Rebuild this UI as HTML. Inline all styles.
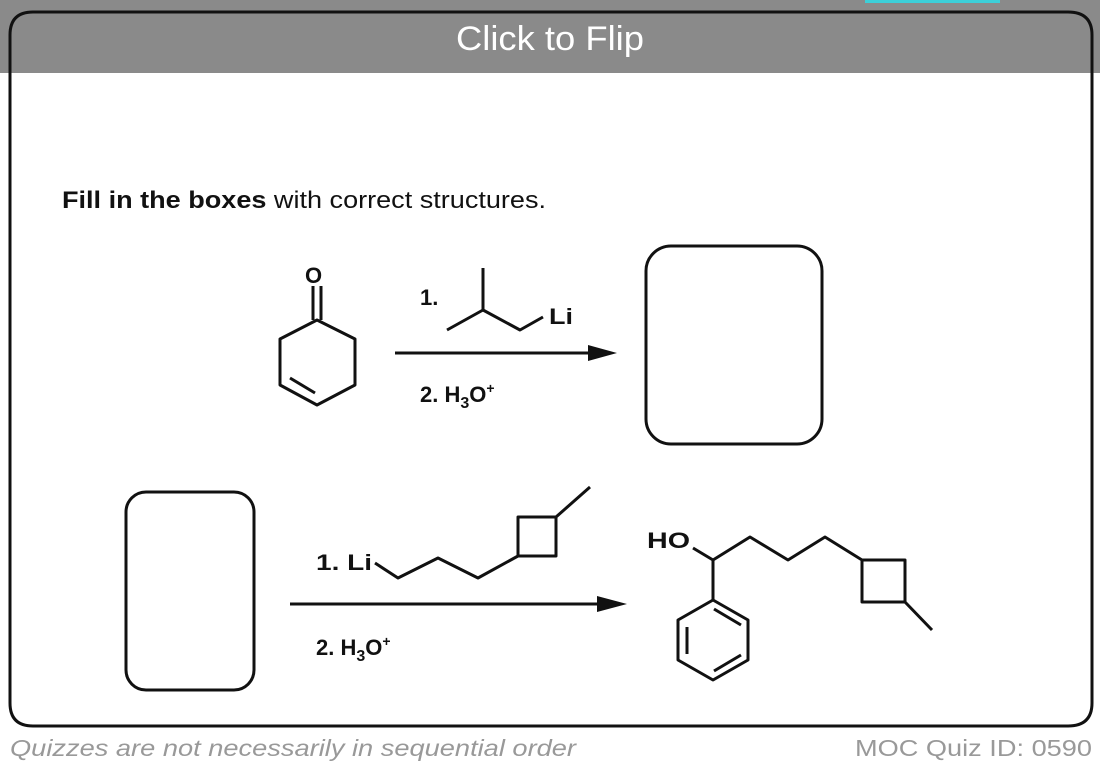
<!DOCTYPE html>
<html><head><style>
html,body{margin:0;padding:0;background:#fff;width:1100px;height:768px;overflow:hidden;font-family:"Liberation Sans",sans-serif;}
</style></head><body>
<svg width="1100" height="768" xmlns="http://www.w3.org/2000/svg" style="position:absolute;left:0;top:0">
<rect x="0" y="0" width="1100" height="73" fill="#8a8a8a"/>
<rect x="865" y="0" width="135" height="3" fill="#3ccfd8"/>
<path d="M10,73 L10,35 Q10,12 33,12 L1068,12 Q1092,12 1092,35 L1092,73" fill="none" stroke="#111" stroke-width="3"/>
<path d="M10,73 L10,703 Q10,726 33,726 L1068,726 Q1092,726 1092,703 L1092,73" fill="#fff" stroke="#111" stroke-width="3"/>
<text x="456" y="50" font-size="34" fill="#fff" textLength="188" lengthAdjust="spacingAndGlyphs">Click to Flip</text>
<text x="62" y="208" font-size="24" fill="#111" textLength="484" lengthAdjust="spacingAndGlyphs"><tspan font-weight="bold">Fill in the boxes</tspan> with correct structures.</text>
<g stroke="#111" stroke-width="3" fill="none" stroke-linejoin="round">
<polygon points="317,320 355,339 355,385 317,405 280,385 280,339"/>
<line x1="290" y1="378" x2="315" y2="393"/>
<line x1="313" y1="320" x2="313" y2="286"/><line x1="321" y1="320" x2="321" y2="286"/>
<polyline points="483,268 483,310 447,330"/><polyline points="483,310 520,330 543,317"/>
<line x1="395" y1="353" x2="595" y2="353"/>
<rect x="646" y="246" width="176" height="198" rx="25"/>
<rect x="126" y="492" width="128" height="198" rx="20"/>
<polyline points="375,563 398,578 438,558 478,578 518,556"/>
<rect x="518" y="517" width="38" height="39"/>
<line x1="556" y1="517" x2="590" y2="487"/>
<line x1="290" y1="604" x2="605" y2="604"/>
<polyline points="693,548 713,560 750,537 788,560 825,537 862,560"/>
<rect x="862" y="560" width="43" height="42"/>
<line x1="905" y1="602" x2="932" y2="630"/>
<line x1="713" y1="560" x2="713" y2="600"/>
<polygon points="713,600 748,620 748,660 713,680 678,660 678,620"/>
<line x1="714" y1="609" x2="741" y2="625"/>
<line x1="687" y1="627" x2="687" y2="654"/>
<line x1="714" y1="671" x2="741" y2="655"/>
</g>
<polygon points="617,353 588,345 588,361" fill="#111"/>
<polygon points="627,604 597,596 597,612" fill="#111"/>
<g font-weight="bold" font-size="22" fill="#111">
<text x="305" y="283">O</text>
<text x="420" y="305">1.</text>
<text x="549" y="324" textLength="24" lengthAdjust="spacingAndGlyphs">Li</text>
<text x="420" y="402">2. H<tspan font-size="16" dy="6">3</tspan><tspan dy="-6">O</tspan><tspan font-size="14" dy="-9">+</tspan></text>
<text x="316" y="570" textLength="56" lengthAdjust="spacingAndGlyphs">1. Li</text>
<text x="316" y="655">2. H<tspan font-size="16" dy="6">3</tspan><tspan dy="-6">O</tspan><tspan font-size="14" dy="-9">+</tspan></text>
<text x="647" y="548" textLength="43" lengthAdjust="spacingAndGlyphs">HO</text>
</g>
<text x="10" y="756" font-size="23" font-style="italic" fill="#999" textLength="566" lengthAdjust="spacingAndGlyphs">Quizzes are not necessarily in sequential order</text>
<text x="855" y="756" font-size="23" fill="#999" textLength="237" lengthAdjust="spacingAndGlyphs">MOC Quiz ID: 0590</text>
</svg>
</body></html>
